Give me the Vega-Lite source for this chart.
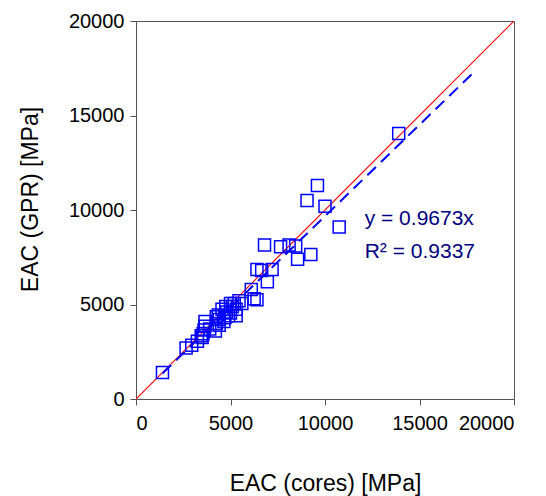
{
  "$schema": "https://vega.github.io/schema/vega-lite/v6.json",
  "width": 378,
  "height": 378,
  "autosize": "none",
  "padding": {"left": 136, "top": 21, "right": 32, "bottom": 97},
  "background": "white",
  "config": {
    "view": {"stroke": "#555555", "strokeWidth": 1},
    "font": "Liberation Sans",
    "axis": {
      "grid": false,
      "domainColor": "#555555",
      "tickColor": "#555555",
      "tickSize": 6,
      "labelFont": "Liberation Sans",
      "labelFontSize": 20,
      "labelColor": "black",
      "titleFont": "Liberation Sans",
      "titleFontSize": 23,
      "titleFontWeight": "normal",
      "titleColor": "black"
    }
  },
  "datasets": {
    "points": [
      {"cores": 1400, "gpr": 1400},
      {"cores": 2650, "gpr": 2700},
      {"cores": 2950, "gpr": 2850},
      {"cores": 3250, "gpr": 3050},
      {"cores": 3500, "gpr": 3250},
      {"cores": 3450, "gpr": 3350},
      {"cores": 3550, "gpr": 3450},
      {"cores": 3600, "gpr": 3650},
      {"cores": 3650, "gpr": 3850},
      {"cores": 3650, "gpr": 4100},
      {"cores": 3900, "gpr": 3700},
      {"cores": 4200, "gpr": 3600},
      {"cores": 4250, "gpr": 4000},
      {"cores": 4250, "gpr": 4350},
      {"cores": 4400, "gpr": 3900},
      {"cores": 4350, "gpr": 4450},
      {"cores": 4400, "gpr": 4200},
      {"cores": 4550, "gpr": 4750},
      {"cores": 4650, "gpr": 4100},
      {"cores": 4700, "gpr": 4300},
      {"cores": 4800, "gpr": 4600},
      {"cores": 4750, "gpr": 4900},
      {"cores": 4900, "gpr": 4400},
      {"cores": 5000, "gpr": 4550},
      {"cores": 5000, "gpr": 5050},
      {"cores": 5100, "gpr": 4900},
      {"cores": 5200, "gpr": 5050},
      {"cores": 5300, "gpr": 4750},
      {"cores": 5300, "gpr": 4400},
      {"cores": 5450, "gpr": 5200},
      {"cores": 5600, "gpr": 5050},
      {"cores": 6100, "gpr": 5800},
      {"cores": 6250, "gpr": 5300},
      {"cores": 6400, "gpr": 5250},
      {"cores": 6400, "gpr": 6850},
      {"cores": 6650, "gpr": 6800},
      {"cores": 6950, "gpr": 6200},
      {"cores": 7200, "gpr": 6850},
      {"cores": 6800, "gpr": 8150},
      {"cores": 7650, "gpr": 8050},
      {"cores": 8100, "gpr": 8150},
      {"cores": 8450, "gpr": 8100},
      {"cores": 8550, "gpr": 7400},
      {"cores": 9250, "gpr": 7650},
      {"cores": 9050, "gpr": 10500},
      {"cores": 9600, "gpr": 11300},
      {"cores": 10000, "gpr": 10200},
      {"cores": 10750, "gpr": 9100},
      {"cores": 13900, "gpr": 14050}
    ],
    "identity": [
      {"cores": 0, "gpr": 0},
      {"cores": 20000, "gpr": 20000}
    ],
    "trend": [
      {"cores": 1400, "gpr": 1354},
      {"cores": 17900, "gpr": 17315}
    ],
    "labels": [
      {"cores": 12100, "gpr": 9520, "text": "y = 0.9673x"},
      {"cores": 12100, "gpr": 7780, "text": "R² = 0.9337"}
    ]
  },
  "encoding": {
    "x": {
      "field": "cores",
      "type": "quantitative",
      "scale": {"domain": [0, 20000], "nice": false, "zero": true},
      "axis": {
        "title": "EAC (cores) [MPa]",
        "values": [0, 5000, 10000, 15000, 20000],
        "format": "d",
        "labelPadding": 8,
        "titlePadding": 39
      }
    },
    "y": {
      "field": "gpr",
      "type": "quantitative",
      "scale": {"domain": [0, 20000], "nice": false, "zero": true},
      "axis": {
        "title": "EAC (GPR) [MPa]",
        "values": [0, 5000, 10000, 15000, 20000],
        "format": "d",
        "labelPadding": 6,
        "titlePadding": 26,
        "titleY": 178
      }
    }
  },
  "layer": [
    {
      "data": {"name": "identity"},
      "mark": {"type": "line", "color": "#ff0000", "strokeWidth": 1.2, "clip": true}
    },
    {
      "data": {"name": "points"},
      "mark": {"type": "point", "shape": "square", "size": 144, "filled": false, "color": "#0000ff", "strokeWidth": 1.5, "opacity": 1}
    },
    {
      "data": {"name": "trend"},
      "mark": {"type": "line", "color": "#0000ff", "strokeWidth": 2, "strokeDash": [12, 7]}
    },
    {
      "data": {"name": "labels"},
      "mark": {"type": "text", "align": "left", "baseline": "middle", "fontSize": 21, "color": "#000080", "font": "Liberation Sans"},
      "encoding": {"text": {"field": "text"}}
    }
  ]
}
